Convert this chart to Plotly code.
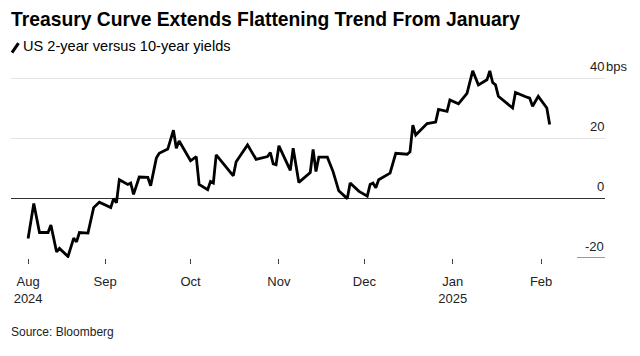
import plotly.graph_objects as go

# ---- data (bps) ----
dates = ["2024-08-05","2024-08-07","2024-08-09","2024-08-12","2024-08-13","2024-08-15","2024-08-16","2024-08-19","2024-08-21","2024-08-22","2024-08-23","2024-08-26","2024-08-28","2024-08-30",
         "2024-09-03","2024-09-04","2024-09-05","2024-09-06","2024-09-09","2024-09-10","2024-09-11","2024-09-13","2024-09-16","2024-09-17","2024-09-19","2024-09-20","2024-09-23","2024-09-25","2024-09-26","2024-09-27",
         "2024-10-01","2024-10-03","2024-10-04","2024-10-07","2024-10-08","2024-10-09","2024-10-10","2024-10-16","2024-10-17","2024-10-21","2024-10-24","2024-10-28","2024-10-29","2024-10-30","2024-10-31",
         "2024-11-01","2024-11-05","2024-11-06","2024-11-08","2024-11-12","2024-11-13","2024-11-14","2024-11-15","2024-11-18","2024-11-20","2024-11-22","2024-11-25","2024-11-26","2024-11-29",
         "2024-12-02","2024-12-03","2024-12-04","2024-12-05","2024-12-06","2024-12-10","2024-12-11","2024-12-12","2024-12-16","2024-12-17","2024-12-18","2024-12-19","2024-12-23","2024-12-26","2024-12-27","2024-12-30","2024-12-31",
         "2025-01-03","2025-01-06","2025-01-07","2025-01-08","2025-01-10","2025-01-13","2025-01-14","2025-01-15","2025-01-16","2025-01-17","2025-01-22","2025-01-23","2025-01-27","2025-01-28","2025-01-29","2025-01-31",
         "2025-02-03","2025-02-04"]
spread = [-13.5,-1.8,-11.5,-11.5,-9,-18,-16.8,-19.5,-13.4,-14.6,-11.5,-11.7,-3.2,-1.4,
          -3.2,-0.2,-1.6,6.1,4.5,5,1.2,7,6.9,4.1,13.3,14.9,16.3,22.6,16.6,19,
          12.4,13.8,4.5,2.8,5.5,5,14.4,7.4,12.1,17.7,12.9,13.8,15.1,11.4,11.1,
          17.4,9.2,16.6,5.2,8.5,16.2,8.8,13.6,13.6,8.8,2.4,-0.2,5,2.3,
          0.6,4.5,5,3.4,6.1,8.3,12.1,14.9,14.6,15.4,24.3,21,24.8,25.3,29.5,28.9,32.7,
          31.4,34.9,39.1,42.4,37.7,39.4,42.4,38.5,37.7,33.9,30,35.2,33.6,33.3,30.6,33.9,
          30,24.5]

x_tick_vals = ["2024-08-05","2024-09-01","2024-10-01","2024-11-01","2024-12-01","2025-01-01","2025-02-01"]
x_tick_text = ["Aug<br>2024","Sep","Oct","Nov","Dec","Jan<br>2025","Feb"]
y_tick_vals = [40, 20, 0, -20]
y_tick_text = ["40", "20", "0", "-20"]

title = "Treasury Curve Extends Flattening Trend From January"
subtitle = "US 2-year versus 10-year yields"
source = "Source: Bloomberg"

# ---- layout geometry (page body has an 8px margin; compensate) ----
OFF = 8
W, H = 640 - OFF, 356 - OFF
ML, MR, MT, MB = 11 - OFF, 35, 63.3 - OFF, 97.7
PW, PH = W - ML - MR, H - MT - MB

def px(x):
    return (x - OFF - ML) / PW

def py(y):
    return (H - MB - (y - OFF)) / PH

FONT = "Liberation Sans, Arial, sans-serif"

fig = go.Figure()
fig.add_trace(go.Scatter(x=dates, y=spread, mode="lines",
                         line=dict(color="#000000", width=2.8),
                         hoverinfo="skip", showlegend=False))

fig.update_layout(
    width=W, height=H,
    margin=dict(l=ML, r=MR, t=MT, b=MB, pad=0, autoexpand=False),
    paper_bgcolor="white", plot_bgcolor="white",
    font=dict(family=FONT, color="#222222", size=13),
    showlegend=False,
)
fig.update_xaxes(type="date", range=["2024-07-30", "2025-02-23 10:00"],
                 tickvals=x_tick_vals, ticktext=x_tick_text,
                 ticks="outside", ticklen=5, tickwidth=1, tickcolor="#444444",
                 ticklabelstandoff=6, automargin=False,
                 showgrid=False, zeroline=False, showline=False,
                 tickfont=dict(size=13, color="#222222", family=FONT))
fig.update_yaxes(range=[-20, 45], tickvals=[v for v in y_tick_vals if v > 0],
                 showticklabels=False, showgrid=True, gridcolor="#e3e3e3", gridwidth=1,
                 zeroline=True, zerolinecolor="#333333", zerolinewidth=1,
                 showline=False, ticks="", automargin=False)

# bottom (-20) segment under the label
fig.add_shape(type="line", xref="paper", yref="y", x0=px(577), x1=1, y0=y_tick_vals[-1], y1=y_tick_vals[-1],
              line=dict(color="#333333", width=1))

# y labels on right
for v, t in zip(y_tick_vals, y_tick_text):
    fig.add_annotation(xref="paper", yref="y", x=1, y=v, text=t, showarrow=False,
                       xanchor="right", yanchor="bottom", yshift=2, xshift=1,
                       font=dict(size=13, color="#222222", family=FONT))
fig.add_annotation(xref="paper", yref="y", x=1, y=y_tick_vals[0], text="bps", showarrow=False,
                   xanchor="left", yanchor="bottom", yshift=2, xshift=-1,
                   font=dict(size=13, color="#222222", family=FONT))

# title, subtitle, source
fig.add_annotation(xref="paper", yref="paper", x=px(9), y=py(20), text="<b>" + title + "</b>",
                   showarrow=False, xanchor="left", yanchor="middle",
                   font=dict(size=19.3, color="#000000", family=FONT))
fig.add_annotation(xref="paper", yref="paper", x=px(21), y=py(46), text=subtitle,
                   showarrow=False, xanchor="left", yanchor="middle",
                   font=dict(size=14.6, color="#000000", family=FONT))
fig.add_shape(type="line", xref="paper", yref="paper", x0=px(12), y0=py(53), x1=px(18.5), y1=py(43.5),
              line=dict(color="#000000", width=3))
fig.add_annotation(xref="paper", yref="paper", x=px(9), y=py(332), text=source,
                   showarrow=False, xanchor="left", yanchor="middle",
                   font=dict(size=12, color="#222222", family=FONT))

fig.write_html("out.html")
